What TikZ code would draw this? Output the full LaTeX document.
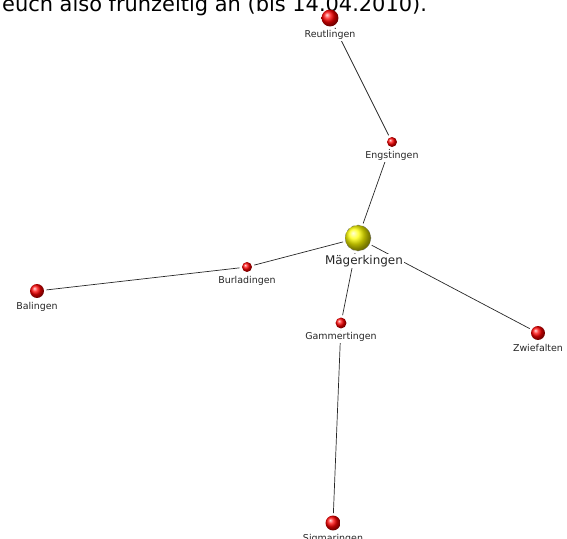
\documentclass[tikz,border=0pt]{standalone}
\usepackage{fontspec}
\setmainfont{DejaVu Sans}
\usetikzlibrary{backgrounds}
\begin{document}
\begin{tikzpicture}[x=1bp, y=-1bp, line join=round, line cap=round,
	ball/.style={circle, inner sep=0pt, outer sep=2.5pt, ball color=red},
	lbl/.style={fill=white, inner sep=1.5pt, text=black!85, font=\fontsize{9.5}{11}\selectfont},
	edge/.style={line width=0.7pt, black!85}]
	\useasboundingbox (0,0) rectangle (567,539);
	\clip (0,0) rectangle (567,539);
	\node[anchor=base west, inner sep=0pt, font=\fontsize{21}{24}\selectfont] (note) at (2,12) {euch also frühzeitig an (bis 14.04.2010).};
	% Orte
	\foreach \p/\x/\y/\r/\t in {reut/330/18/8.5/Reutlingen, engs/392/142/5/Engstingen, burl/247/267/5/Burladingen, bali/37/291/7/Balingen, gamm/341/323/5.5/Gammertingen, zwie/538/333/7/Zwiefalten, sigm/333/523/7.5/Sigmaringen}
		\node[ball, minimum size=2*\r, label={[lbl, label distance=0pt]below:\t}] (\p) at (\x,\y) {};
	\node[ball, ball color=yellow, draw=black!55, dashed, thin, minimum size=26, label={[lbl, label distance=0pt, xshift=6, font=\fontsize{12}{14}\selectfont]below:Mägerkingen}] (maeg) at (358,238) {};
	% Verbindungen
	\begin{pgfonlayer}{background}
		\foreach \a/\b in {reut/engs, engs/maeg, maeg/burl, burl/bali, maeg/gamm, maeg/zwie, gamm/sigm}
			\draw[edge] (\a)--(\b);
	\end{pgfonlayer}
\end{tikzpicture}
\end{document}
